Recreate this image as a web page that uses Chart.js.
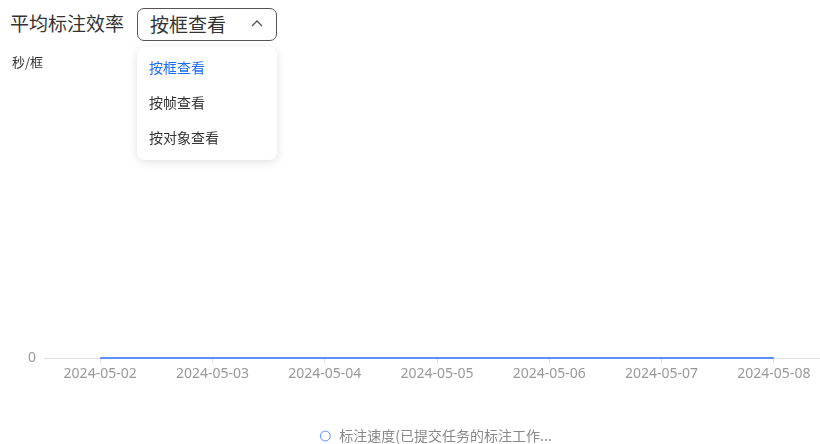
<!DOCTYPE html>
<html>
<head>
<meta charset="utf-8">
<script src="https://cdn.jsdelivr.net/npm/chart.js@4"></script>
<style>
  html, body { margin: 0; padding: 0; background: #fff; overflow: hidden; }
  body { width: 820px; height: 444px; position: relative; font-family: "Noto Sans", "Noto Sans CJK SC", sans-serif; }
  .title { position: absolute; left: 10px; top: 9px; font-size: 19px; line-height: 28px; color: #333; font-family: "Noto Sans CJK SC", sans-serif; }
  .select { position: absolute; left: 137px; top: 8px; width: 140px; height: 33px; border: 1px solid #555; border-radius: 7px; box-sizing: border-box; }
  .select span { position: absolute; left: 12px; top: 1px; font-size: 19px; line-height: 28px; color: #333; font-family: "Noto Sans CJK SC", sans-serif; }
  .select svg { position: absolute; left: 113px; top: 10px; }
  .dropdown { position: absolute; left: 137px; top: 47px; width: 140px; height: 113px; background: #fff; border-radius: 8px; box-shadow: 0 2px 10px rgba(0,0,0,0.12); }
  .dropdown div { position: absolute; left: 12px; font-size: 14px; line-height: 20px; color: #333; font-family: "Noto Sans CJK SC", sans-serif; }
  .unit { position: absolute; left: 12px; top: 53px; font-size: 13px; line-height: 18px; color: #333; font-family: "Noto Sans CJK SC", sans-serif; }
  .chart { position: absolute; left: 0; top: 60px; width: 870px; height: 393px; }
</style>
</head>
<body>
<div class="chart"><canvas id="c"></canvas></div>
<div class="title">平均标注效率</div>
<div class="unit">秒/框</div>
<div class="select"><span>按框查看</span>
  <svg width="12" height="8" viewBox="0 0 12 8"><polyline points="1,7 6,2 11,7" fill="none" stroke="#555" stroke-width="1.4"/></svg>
</div>
<div class="dropdown">
  <div style="top:10px;color:#1a6cf5">按框查看</div>
  <div style="top:45px">按帧查看</div>
  <div style="top:80px">按对象查看</div>
</div>
<script>
// x categories (dates) and series values
const dates = ['2024-05-02', '2024-05-03', '2024-05-04', '2024-05-05', '2024-05-06', '2024-05-07', '2024-05-08'];
const speedValues = [0, 0, 0, 0, 0, 0, 0];
const seriesName = '标注速度(已提交任务的标注工作...';
const yTicks = [0];

const ctx = document.getElementById('c').getContext('2d');
new Chart(ctx, {
  type: 'line',
  data: {
    labels: dates,
    datasets: [{
      label: seriesName,
      data: speedValues,
      borderColor: '#5b8ff9',
      backgroundColor: '#fff',
      borderWidth: 2,
      pointRadius: 0,
      pointStyle: 'circle',
      tension: 0,
      clip: false,
    }],
  },
  options: {
    responsive: true,
    maintainAspectRatio: false,
    animation: false,
    layout: { padding: 0 },
    scales: {
      x: {
        type: 'category',
        offset: true,
        grid: {
          display: true,
          drawOnChartArea: false,
          drawTicks: true,
          tickLength: 5,
          color: '#e0e0e0',
        },
        border: { color: '#e0e0e0', width: 1 },
        ticks: {
          color: '#999',
          font: { size: 14, family: '"Noto Sans", sans-serif' },
          padding: 3,
          maxRotation: 0,
        },
        afterFit: (scale) => { scale.height = 67; },
      },
      y: {
        min: 0,
        max: 1,
        grid: { display: false },
        border: { display: false },
        afterBuildTicks: (scale) => { scale.ticks = yTicks.map(v => ({ value: v })); },
        ticks: {
          color: '#999',
          font: { size: 14, family: '"Noto Sans", sans-serif' },
          padding: 0,
        },
        afterFit: (scale) => { scale.width = 44; },
      },
      // empty spacer on the right, so the legend sits right of centre like the reference
      spacer: {
        position: 'right',
        min: 0,
        max: 1,
        grid: { display: false },
        border: { display: false },
        ticks: { display: false },
        afterFit: (scale) => { scale.width = 40; },
      },
    },
    plugins: {
      legend: {
        position: 'bottom',
        labels: {
          usePointStyle: true,
          pointStyle: 'circle',
          boxWidth: 14,
          boxHeight: 7,
          color: '#888',
          font: { size: 14, family: '"Noto Sans CJK SC", sans-serif' },
          padding: 4,
          generateLabels: (chart) => {
            const items = Chart.defaults.plugins.legend.labels.generateLabels(chart);
            items.forEach(it => { it.lineWidth = 1; it.fillStyle = '#fff'; });
            return items;
          },
        },
      },
      tooltip: { enabled: false },
    },
  },
});
</script>
</body>
</html>
